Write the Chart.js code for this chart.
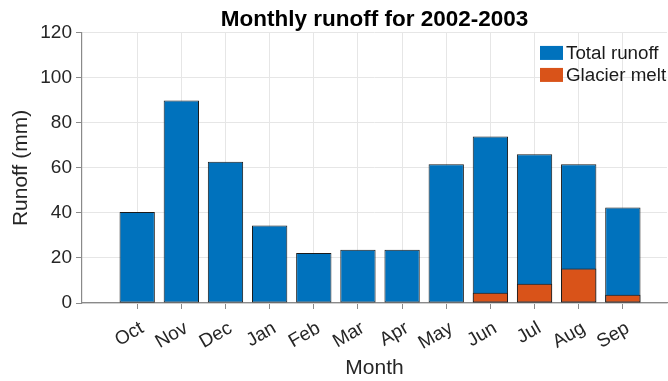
<!DOCTYPE html>
<html>
<head>
<meta charset="utf-8">
<title>Monthly runoff</title>
<script src="https://cdn.jsdelivr.net/npm/chart.js@4.4.1/dist/chart.umd.min.js"></script>
<style>
    html, body { margin: 0; padding: 0; background: #fff; }
    #runoffChart { display: block; }
</style>
</head>
<body>
<canvas id="runoffChart" width="668" height="381"></canvas>
<script>
// 月份与径流数据 (mm)
const months = ['Oct', 'Nov', 'Dec', 'Jan', 'Feb', 'Mar', 'Apr', 'May', 'Jun', 'Jul', 'Aug', 'Sep'];
const totalRunoff = [40.4, 90.0, 62.8, 34.4, 22.2, 23.7, 23.7, 61.6, 74.0, 66.1, 61.6, 42.4];
const glacierMelt = [0.4, 0, 0, 0, 0, 0, 0, 0, 4.6, 8.5, 15.3, 3.7];
const yTicks = [0, 20, 40, 60, 80, 100, 120];

const FONT = '"Liberation Sans", Arial, Helvetica, sans-serif';
const BLUE = '#0072BD';
const ORANGE = '#D95319';
const AXIS = '#8a8a8a';
const GRID = '#e6e6e6';

// 图例画在绘图区右上角
const insideLegend = {
    id: 'insideLegend',
    afterDraw(chart) {
        const ctx = chart.ctx;
        const area = chart.chartArea;
        const items = [
            { text: 'Total runoff', color: BLUE },
            { text: 'Glacier melt', color: ORANGE }
        ];
        ctx.save();
        ctx.font = '18.8px ' + FONT;
        ctx.textBaseline = 'middle';
        ctx.textAlign = 'left';
        items.forEach((item, i) => {
            const y = area.top + 13 + i * 22;
            ctx.fillStyle = item.color;
            ctx.fillRect(area.left + 458, y, 23, 14);
            ctx.fillStyle = '#1a1a1a';
            ctx.fillText(item.text, area.left + 484, y + 7.5);
        });
        ctx.restore();
    }
};

const ctx = document.getElementById('runoffChart').getContext('2d');
new Chart(ctx, {
    type: 'bar',
    data: {
        datasets: [
            {
                label: 'Glacier melt',
                data: glacierMelt.map((v, i) => ({ x: i + 1, y: v })),
                backgroundColor: ORANGE,
                borderColor: '#1a1a1a',
                borderWidth: 1,
                borderSkipped: false,
                grouped: false,
                categoryPercentage: 1,
                barPercentage: 0.8
            },
            {
                label: 'Total runoff',
                data: totalRunoff.map((v, i) => ({ x: i + 1, y: v })),
                backgroundColor: BLUE,
                borderColor: '#1a1a1a',
                borderWidth: 1,
                borderSkipped: false,
                grouped: false,
                categoryPercentage: 1,
                barPercentage: 0.8
            }
        ]
    },
    options: {
        responsive: false,
        animation: false,
        devicePixelRatio: 1,
        layout: { padding: { top: 0, right: 1, bottom: 0, left: 0 } },
        scales: {
            x: {
                type: 'linear',
                min: -0.25,
                max: 13,
                offset: false,
                afterBuildTicks: scale => {
                    scale.ticks = months.map((m, i) => ({ value: i + 1 }));
                },
                afterFit: scale => { scale.height = 78; },
                grid: { color: GRID, tickColor: AXIS, tickLength: 6, offset: false },
                border: { display: true, color: AXIS, width: 1.2 },
                ticks: {
                    autoSkip: false,
                    minRotation: 30,
                    maxRotation: 30,
                    padding: 8,
                    labelOffset: 5,
                    color: '#262626',
                    font: { family: FONT, size: 19 },
                    callback: value => months[value - 1]
                },
                title: {
                    display: true,
                    text: 'Month',
                    color: '#262626',
                    font: { family: FONT, size: 21, lineHeight: 1.2 },
                    padding: { top: 0, bottom: 0 }
                }
            },
            y: {
                min: 0,
                max: 120,
                afterBuildTicks: scale => {
                    scale.ticks = yTicks.map(v => ({ value: v }));
                },
                afterFit: scale => { scale.width = 82; },
                grid: { color: GRID, tickColor: AXIS, tickLength: 6 },
                border: { display: true, color: AXIS, width: 1.2 },
                ticks: {
                    padding: 4,
                    color: '#262626',
                    font: { family: FONT, size: 19 }
                },
                title: {
                    display: true,
                    text: 'Runoff (mm)',
                    color: '#262626',
                    font: { family: FONT, size: 21, lineHeight: 1.2 },
                    padding: { top: 9, bottom: 0 }
                }
            }
        },
        plugins: {
            legend: { display: false },
            tooltip: { enabled: false },
            title: {
                display: true,
                fullSize: false,
                text: 'Monthly runoff for 2002-2003',
                color: '#000',
                font: { family: FONT, size: 22.5, weight: 'bold', lineHeight: 1.13 },
                padding: { top: 7.5, bottom: 0 }
            }
        }
    },
    plugins: [insideLegend]
});
</script>
</body>
</html>
